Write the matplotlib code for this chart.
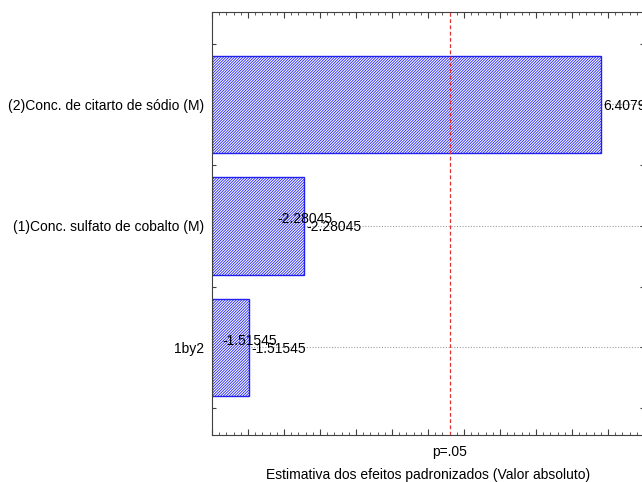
import numpy as np
import matplotlib.pyplot as plt
from matplotlib.ticker import MultipleLocator

plt.rcParams['font.family'] = ['Liberation Sans', 'DejaVu Sans']
plt.rcParams['hatch.linewidth'] = 0.6
plt.rcParams['hatch.color'] = '#3838ff'

# efeitos padronizados (de baixo para cima)
fatores = ["1by2", "(1)Conc. sulfato de cobalto (M)", "(2)Conc. de citarto de sódio (M)"]
efeitos = [-1.51545, -2.28045, 6.4079]
p_limite = 4.303  # t(0.025; 2)
rotulos = ["-1.51545", "-2.28045", "6.4079"]

fs = 10
fig = plt.figure(figsize=(6.42, 4.82), dpi=100)
ax = fig.add_axes([212 / 642, 47 / 482, 432 / 642, 423 / 482])

x0 = 1.0
ypos = np.arange(len(fatores))
absv = np.abs(efeitos)

for y in ypos:
    ax.axhline(y, color="#a0a0a0", lw=0.8, ls=(0, (1, 1.5)), zorder=0)

ax.barh(ypos, absv - x0, left=x0, height=0.8, color="white",
        edgecolor="#2020f0", hatch="////////////", lw=1.0, zorder=2)

ax.axvline(p_limite, color="#e03030", lw=0.9, ls=(0, (3, 2)), zorder=3)

for y, v, e, r in zip(ypos, absv, efeitos, rotulos):
    ax.annotate(r, (v, y), xytext=(1.5, -1), textcoords="offset points",
                ha="left", va="center", fontsize=fs, zorder=4)
    if e < 0:
        ax.annotate(r, (v, y), xytext=(-19.5, 5), textcoords="offset points",
                    ha="left", va="center", fontsize=fs, zorder=4)

ax.set_xlim(x0, 7.0)
ax.set_ylim(-0.72, 2.76)
ax.xaxis.set_major_locator(MultipleLocator(0.5))
ax.xaxis.set_minor_locator(MultipleLocator(0.1))
ax.set_xticklabels([])
ax.set_yticks(np.arange(-0.5, 2.6, 0.5))
ax.set_yticklabels(["", fatores[0], "", fatores[1], "", fatores[2], ""], fontsize=fs)
ax.tick_params(axis="both", which="both", direction="in", top=True, right=True, color="#404040")
ax.tick_params(axis="x", which="major", length=4)
ax.tick_params(axis="x", which="minor", length=2)
ax.tick_params(axis="y", length=3, pad=6)
for s in ax.spines.values():
    s.set_color("#404040")

ax.text(p_limite, -0.86, "p=.05", ha="center", va="center", fontsize=fs)
ax.set_xlabel("Estimativa dos efeitos padronizados (Valor absoluto)", fontsize=fs, labelpad=20)

fig.savefig("out.png", dpi=100)
